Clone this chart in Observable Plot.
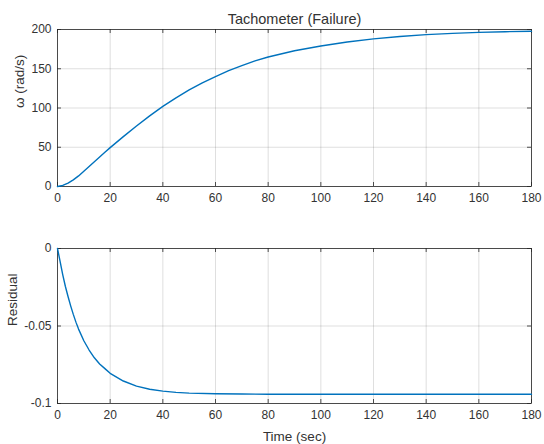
<!DOCTYPE html>
<html>
<head>
<meta charset="utf-8">
<script src="https://cdn.jsdelivr.net/npm/d3@7"></script>
<script src="https://cdn.jsdelivr.net/npm/@observablehq/plot@0.6"></script>
<style>
  html, body { margin: 0; padding: 0; background: #fff; }
  #chart { width: 544px; height: 444px; background: #fff; }
  #chart svg { display: block; }
</style>
</head>
<body>
<div id="chart"></div>
<script>
// ---- data ----
const title = "Tachometer (Failure)";
const topYLabel = "ω (rad/s)";
const bottomYLabel = "Residual";
const xLabel = "Time (sec)";

const xTicks = [0, 20, 40, 60, 80, 100, 120, 140, 160, 180];
const topYTicks = [0, 50, 100, 150, 200];
const topYTickLabels = ["0", "50", "100", "150", "200"];
const bottomYTicks = [0, -0.05, -0.1];
const bottomYTickLabels = ["0", "-0.05", "-0.1"];

const speedTime = [0, 2, 4, 6, 8, 10, 12, 14, 16, 18, 20, 25, 30, 35, 40, 45, 50, 55, 60, 65, 70, 75, 80, 90, 100, 110, 120, 130, 140, 150, 160, 170, 180];
const speedValue = [0, 1.3, 4.3, 8.5, 13.5, 19.5, 25.5, 31.5, 37.5, 43.5, 49.5, 63.5, 77, 90, 102, 113, 123, 132, 140, 147.5, 154, 160, 165, 173, 179, 184, 188, 191, 193.5, 195, 196.3, 197.2, 197.8];

const residualTime = [0, 1, 2, 3, 4, 5, 6, 7, 8, 10, 12, 14, 16, 18, 20, 25, 30, 35, 40, 45, 50, 60, 70, 80, 100, 120, 140, 160, 180];
const residualValue = [0, -0.0085, -0.017, -0.0245, -0.031, -0.037, -0.0425, -0.0475, -0.052, -0.0595, -0.0655, -0.0705, -0.0745, -0.0775, -0.0805, -0.0855, -0.0888, -0.0908, -0.0920, -0.0928, -0.0933, -0.0937, -0.0939, -0.094, -0.094, -0.094, -0.094, -0.094, -0.094];

const speedData = speedTime.map((t, i) => ({t, v: speedValue[i]}));
const residualData = residualTime.map((t, i) => ({t, v: residualValue[i]}));

// ---- style ----
const W = 544;
const ML = 57, MR = 13;
const axisColor = "#262626";
const textColor = "#333333";
const lineColor = "#0072BD";
const font = "'Liberation Sans', Arial, Helvetica, sans-serif";
const tickLen = 4;

function panel({height, marginTop, marginBottom, yDomain, yTicks, yTickLabels, data, yLabel, yLabelDx, extra}) {
  const ph = height - marginTop - marginBottom;
  const pw = W - ML - MR;
  return Plot.plot({
    width: W,
    height,
    marginLeft: ML,
    marginRight: MR,
    marginTop,
    marginBottom,
    style: {fontFamily: font, fontSize: "12px", color: textColor, background: "#fff"},
    x: {domain: [0, 180], label: null},
    y: {domain: yDomain, label: null},
    marks: [
      Plot.gridX(xTicks, {stroke: axisColor, strokeOpacity: 0.15}),
      Plot.gridY(yTicks, {stroke: axisColor, strokeOpacity: 0.15}),
      Plot.tickX(xTicks, {x: d => d, insetTop: ph - tickLen, stroke: axisColor, strokeWidth: 0.8}),
      Plot.tickX(xTicks, {x: d => d, insetBottom: ph - tickLen, stroke: axisColor, strokeWidth: 0.8}),
      Plot.tickY(yTicks, {y: d => d, insetRight: pw - tickLen, stroke: axisColor, strokeWidth: 0.8}),
      Plot.tickY(yTicks, {y: d => d, insetLeft: pw - tickLen, stroke: axisColor, strokeWidth: 0.8}),
      Plot.frame({stroke: axisColor, strokeWidth: 0.8}),
      Plot.line(data, {x: "t", y: "v", stroke: lineColor, strokeWidth: 1.4}),
      Plot.axisX(xTicks, {tickSize: 0, tickPadding: 7, fontSize: 12, label: null, fill: textColor}),
      Plot.axisY(yTicks, {tickSize: 0, tickPadding: 6, fontSize: 12, label: null, fill: textColor,
        tickFormat: d => yTickLabels[yTicks.indexOf(d)]}),
      Plot.text([yLabel], {frameAnchor: "left", lineAnchor: "middle", rotate: -90, dx: yLabelDx, fontSize: 13.5, fill: textColor}),
      ...(extra || [])
    ]
  });
}

const topPanel = panel({
  height: 220, marginTop: 29, marginBottom: 34,
  yDomain: [0, 200], yTicks: topYTicks, yTickLabels: topYTickLabels,
  data: speedData, yLabel: topYLabel, yLabelDx: -38,
  extra: [Plot.text([title], {frameAnchor: "top", lineAnchor: "middle", dy: -10, fontSize: 14.5, fill: textColor})]
});

const bottomPanel = panel({
  height: 224, marginTop: 28, marginBottom: 41,
  yDomain: [-0.1, 0], yTicks: bottomYTicks, yTickLabels: bottomYTickLabels,
  data: residualData, yLabel: bottomYLabel, yLabelDx: -45,
  extra: [Plot.text([xLabel], {frameAnchor: "bottom", lineAnchor: "middle", dy: 33, fontSize: 13.5, fill: textColor})]
});

const chart = document.getElementById("chart");
chart.appendChild(topPanel);
chart.appendChild(bottomPanel);
</script>
</body>
</html>
